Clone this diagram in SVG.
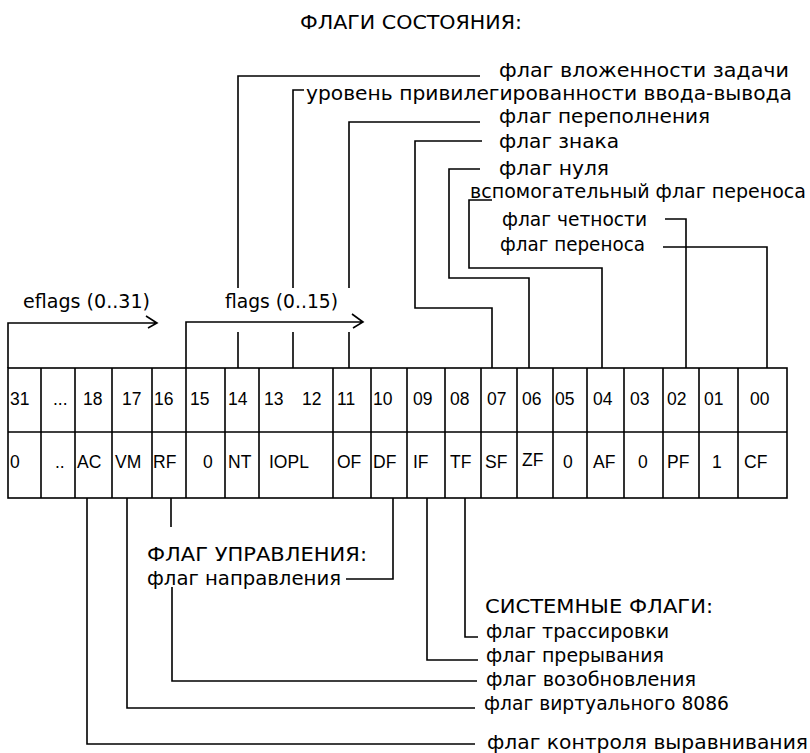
<svg xmlns="http://www.w3.org/2000/svg" width="810" height="753" viewBox="0 0 810 753">
<style>
.ln{fill:none;stroke:#000;stroke-width:1.6}
.cell{font-family:"Liberation Sans",Arial,sans-serif;font-size:17.5px;fill:#000}
.lbl{font-family:"DejaVu Sans","Liberation Sans",sans-serif;font-size:19px;fill:#000}
</style>
<rect width="810" height="753" fill="#fff"/>
<g id="title"><text class="lbl" x="300" y="29" textLength="222" lengthAdjust="spacingAndGlyphs">ФЛАГИ СОСТОЯНИЯ:</text></g>
<g id="table">
<rect class="ln" x="8" y="368" width="779" height="130"/>
<path class="ln" d="M8,432H787M41,368V498M75,368V498M112,368V498M152,368V498M186,368V498M225,368V498M259,368V498M333,368V498M371,368V498M407,368V498M445,368V498M481,368V498M517,368V498M553,368V498M587,368V498M624,368V498M663,368V498M699,368V498M738,368V498"/>
<g class="cell">
<text x="10" y="405">31</text><text x="53" y="405">...</text><text x="83" y="405">18</text><text x="122" y="405">17</text><text x="154" y="405">16</text><text x="190" y="405">15</text><text x="228" y="405">14</text><text x="264" y="405">13</text><text x="302" y="405">12</text><text x="337" y="405">11</text><text x="373" y="405">10</text><text x="413" y="405">09</text><text x="450" y="405">08</text><text x="487" y="405">07</text><text x="522" y="405">06</text><text x="555" y="405">05</text><text x="593" y="405">04</text><text x="630" y="405">03</text><text x="667" y="405">02</text><text x="704" y="405">01</text><text x="750" y="405">00</text>
<text x="10" y="468">0</text><text x="55" y="468">..</text><text x="77" y="468">AC</text><text x="115" y="468">VM</text><text x="153" y="468">RF</text><text x="203" y="468">0</text><text x="228" y="468">NT</text><text x="269" y="468">IOPL</text><text x="337" y="468">OF</text><text x="373" y="468">DF</text><text x="413" y="468">IF</text><text x="450" y="468">TF</text><text x="485" y="468">SF</text><text x="522" y="466">ZF</text><text x="563" y="468">0</text><text x="593" y="468">AF</text><text x="638" y="468">0</text><text x="667" y="468">PF</text><text x="712" y="468">1</text><text x="744" y="468">CF</text>
</g>
</g>
<g id="eflags"><text class="lbl" x="23" y="308" textLength="127" lengthAdjust="spacingAndGlyphs">eflags (0..31)</text></g>
<g id="flags"><text class="lbl" x="225" y="308" textLength="113" lengthAdjust="spacingAndGlyphs">flags (0..15)</text></g>
<g id="nt"><text class="lbl" x="499" y="77" textLength="290" lengthAdjust="spacingAndGlyphs">флаг вложенности задачи</text></g>
<g id="iopl"><text class="lbl" x="306" y="100" textLength="486" lengthAdjust="spacingAndGlyphs">уровень привилегированности ввода-вывода</text></g>
<g id="of"><text class="lbl" x="499" y="123" textLength="211" lengthAdjust="spacingAndGlyphs">флаг переполнения</text></g>
<g id="sf"><text class="lbl" x="499" y="148" textLength="120" lengthAdjust="spacingAndGlyphs">флаг знака</text></g>
<g id="zf"><text class="lbl" x="499" y="175" textLength="110" lengthAdjust="spacingAndGlyphs">флаг нуля</text></g>
<g id="af"><text class="lbl" x="470" y="198" textLength="336" lengthAdjust="spacingAndGlyphs">вспомогательный флаг переноса</text></g>
<g id="pf"><text class="lbl" x="502" y="226" textLength="145" lengthAdjust="spacingAndGlyphs">флаг четности</text></g>
<g id="cf"><text class="lbl" x="500" y="251" textLength="145" lengthAdjust="spacingAndGlyphs">флаг переноса</text></g>
<g id="ctrl"><text class="lbl" x="147" y="561" textLength="220" lengthAdjust="spacingAndGlyphs">ФЛАГ УПРАВЛЕНИЯ:</text></g>
<g id="df"><text class="lbl" x="147" y="585" textLength="194" lengthAdjust="spacingAndGlyphs">флаг направления</text></g>
<g id="sys"><text class="lbl" x="485" y="613" textLength="228" lengthAdjust="spacingAndGlyphs">СИСТЕМНЫЕ ФЛАГИ:</text></g>
<g id="tf"><text class="lbl" x="486" y="638" textLength="183" lengthAdjust="spacingAndGlyphs">флаг трассировки</text></g>
<g id="if"><text class="lbl" x="486" y="662" textLength="178" lengthAdjust="spacingAndGlyphs">флаг прерывания</text></g>
<g id="rf"><text class="lbl" x="486" y="686" textLength="210" lengthAdjust="spacingAndGlyphs">флаг возобновления</text></g>
<g id="vm"><text class="lbl" x="484" y="710" textLength="245" lengthAdjust="spacingAndGlyphs">флаг виртуального 8086</text></g>
<g id="ac"><text class="lbl" x="487" y="749" textLength="321" lengthAdjust="spacingAndGlyphs">флаг контроля выравнивания</text></g>
<g id="connectors" class="ln">
<path d="M8,368V323H157M146,316L157,323L148,328"/>
<path d="M186,368V322H363M352,314L363,322L353,328"/>
<path d="M480,76H238V288M238,332V368"/>
<path d="M304,90H293V288M293,332V368"/>
<path d="M480,122H349V288M349,332V368"/>
<path d="M482,141H415V308H492V368"/>
<path d="M480,169H449V278H529V368"/>
<path d="M492,200H469V268H602V368"/>
<path d="M665,219H686V368"/>
<path d="M663,247H767V368"/>
<path d="M87,498V744H475"/>
<path d="M127,498V708H475"/>
<path d="M171,498V527M172,587V681H477"/>
<path d="M346,579H393V498"/>
<path d="M427,498V660H478"/>
<path d="M465,498V637H478"/>
</g>
</svg>
